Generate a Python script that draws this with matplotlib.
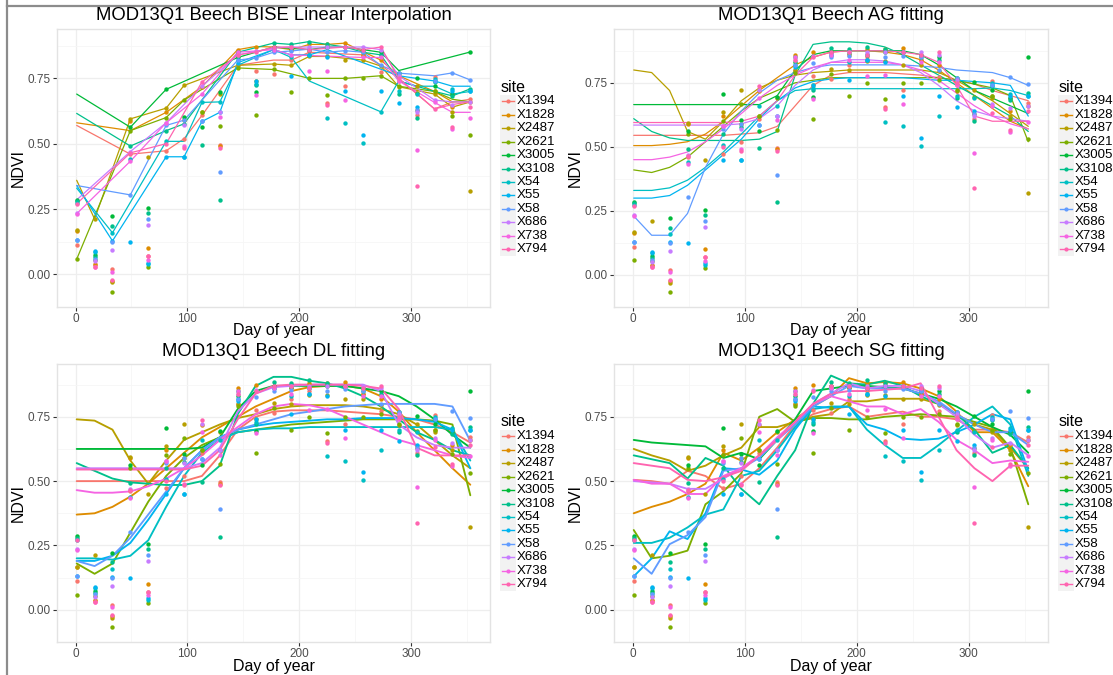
import matplotlib
matplotlib.use("Agg")
import matplotlib.pyplot as plt
from matplotlib.lines import Line2D
from matplotlib.patches import Rectangle
import numpy as np

plt.rcParams['font.family'] = ['Liberation Sans', 'DejaVu Sans']

# ---------------- data ----------------
days = [1, 17, 33, 49, 65, 81, 97, 113, 129, 145, 161, 177, 193, 209, 225, 241, 257, 273, 289, 305, 321, 337, 353]
sites = ["X1394", "X1828", "X2487", "X2621", "X3005", "X3108", "X54", "X55", "X58", "X686", "X738", "X794"]
site_colors = ["#F8766D", "#DE8C00", "#B79F00", "#7CAE00", "#00BA38", "#00C08B",
               "#00BFC4", "#00B4F0", "#619CFF", "#C77CFF", "#F564E3", "#FF64B0"]
x_ticks = [0, 100, 200, 300]
y_ticks = [0.0, 0.25, 0.50, 0.75]
y_tick_labels = ["0.00", "0.25", "0.50", "0.75"]
titles = ["MOD13Q1 Beech BISE Linear Interpolation", "MOD13Q1 Beech AG fitting",
          "MOD13Q1 Beech DL fitting", "MOD13Q1 Beech SG fitting"]

N = None
raw_ndvi = {
    "X1394": [.111, .035, .02, .46, .07, .473, .519, .608, .495, .80, .777, .765, .82, .85, .654, .721, .84, .774, .74, .61, .756, .69, .67],
    "X1828": [.165, .04, -.024, .588, .102, .62, .59, .718, .49, .86, .872, .87, .86, .88, .88, .885, .84, .82, .76, .63, .70, .64, .66],
    "X2487": [.168, .212, -.03, .595, .449, .636, .723, .62, .69, .80, .74, .805, .80, .834, .834, .82, .82, .797, .718, .72, .69, .622, .32],
    "X2621": [.058, .055, -.066, .55, .027, .60, .667, .62, .566, .79, .608, .784, .699, .75, .687, .75, .75, .76, .72, .693, .70, .607, .532],
    "X3005": [.285, .075, .222, .563, .254, .708, .604, .563, .696, .83, .696, .87, .865, .86, .87, .87, .86, .85, .77, .752, .72, .69, .851],
    "X3108": [.279, .065, .184, .491, .235, .55, .576, .496, .283, .85, .723, .885, .88, .891, .88, .87, .85, .84, .689, .60, .736, .683, .71],
    "X54":   [.273, .085, .159, .44, .039, .509, .45, .658, .66, .82, .73, .86, .83, .84, .597, .58, .504, .622, .70, .69, .748, .708, .70],
    "X55":   [.13, .09, .128, .124, .045, .45, .45, .585, .62, .81, .74, .86, .761, .84, .83, .70, .534, .70, .655, .639, .74, .70, .70],
    "X58":   [.13, .06, .125, .304, .212, .57, .59, .585, .39, .82, .828, .85, .855, .862, .85, .856, .85, .80, .77, .63, .74, .771, .744],
    "X686":  [.235, .05, .092, .47, .188, .58, .57, .72, .62, .84, .853, .866, .87, .87, .87, .87, .87, .86, .76, .62, .667, .65, .66],
    "X738":  [.232, .03, .01, .433, .056, .58, .49, .69, .603, .85, .687, .86, .84, .777, .78, .667, .83, .83, .74, .477, .658, .557, .598],
    "X794":  [.27, .03, -.02, .465, .071, .50, .483, .736, .483, .84, .85, .87, .87, .86, .648, .87, .86, .87, .75, .338, .633, .565, .64],
}

bise_fit = {
    "X1394": [.57, N, N, .46, N, .473, .519, .608, N, .80, N, .82, .82, .85, N, N, .84, .80, .75, N, .633, .66, .67],
    "X1828": [.58, N, N, .55, N, .62, N, .718, N, .86, .872, .87, .86, .88, .88, .885, N, .82, .76, N, .70, .66, .66],
    "X2487": [.36, .212, N, .595, N, .636, .723, N, N, .80, N, .805, .80, .834, .834, N, .82, .797, .718, N, .69, .64, .66],
    "X2621": [.058, N, N, .55, N, .60, .667, N, N, .79, N, .784, N, .75, N, .75, N, .76, .72, N, .70, .67, .66],
    "X3005": [.69, N, N, .563, N, .708, N, N, N, .83, N, .87, .865, .86, .87, .87, .86, .85, .78, N, N, N, .851],
    "X3108": [.616, N, N, .491, N, .55, .576, N, N, .85, N, .885, .88, .891, .88, .87, .85, .84, .74, N, .70, .683, .71],
    "X54":   [.33, N, .159, N, N, .509, .509, .658, .66, .80, N, .86, .83, .74, N, N, N, .622, .74, .72, .72, .69, .70],
    "X55":   [.34, N, .128, N, N, .45, .45, .585, .62, .81, N, .86, .84, .84, .86, N, N, N, .76, N, .74, .72, .72],
    "X58":   [.34, N, N, .304, N, .57, .59, N, N, .82, .828, .85, .855, .862, .85, .856, .85, .80, .77, N, .76, .771, .744],
    "X686":  [.285, N, N, .47, N, .58, N, .72, N, .84, .853, .866, .87, .87, .87, .87, .87, .86, .76, N, .667, .66, .66],
    "X738":  [.232, N, N, .433, N, .58, N, .69, N, .85, N, .86, .84, N, N, N, .83, .83, .74, N, .658, .62, .62],
    "X794":  [.27, N, N, .465, N, .50, N, .736, N, .84, .85, .87, .87, .86, N, .87, .86, .87, .75, N, .633, .65, .66],
}

ag_fit = {
    "X1394": [.545, .545, .545, .545, .545, .545, .55, .555, .58, .66, .74, .78, .79, .79, .79, .785, .78, .77, .76, .745, .72, .70, .68],
    "X1828": [.505, .505, .51, .52, .55, .60, .66, .72, .77, .82, .85, .87, .875, .875, .87, .86, .84, .80, .75, .70, .65, .60, .57],
    "X2487": [.80, .79, .72, .56, .53, .60, .68, .73, .76, .78, .79, .795, .80, .80, .80, .80, .80, .79, .76, .72, .68, .63, .58],
    "X2621": [.41, .40, .42, .46, .52, .58, .64, .69, .72, .75, .76, .77, .77, .77, .77, .77, .77, .77, .76, .745, .73, .70, .52],
    "X3005": [.665, .665, .665, .665, .665, .665, .665, .665, .70, .80, .86, .875, .875, .875, .875, .875, .86, .82, .77, .72, .69, .66, .63],
    "X3108": [.61, .56, .535, .525, .525, .525, .525, .53, .56, .78, .90, .91, .91, .905, .89, .86, .82, .78, .74, .70, .66, .62, .56],
    "X54":   [.33, .33, .34, .37, .42, .48, .55, .62, .68, .72, .727, .727, .727, .727, .727, .727, .727, .727, .727, .727, .73, .72, .70],
    "X55":   [.30, .30, .31, .35, .41, .47, .53, .61, .68, .73, .755, .765, .77, .77, .77, .77, .765, .76, .76, .755, .75, .74, .62],
    "X58":   [.23, .155, .155, .24, .42, .55, .64, .71, .76, .79, .81, .82, .82, .82, .82, .82, .815, .81, .80, .795, .79, .77, .74],
    "X686":  [.585, .585, .585, .585, .585, .585, .59, .61, .66, .74, .80, .83, .84, .84, .835, .82, .79, .74, .68, .64, .62, .61, .60],
    "X738":  [.45, .45, .46, .48, .52, .57, .63, .69, .74, .78, .81, .83, .83, .83, .83, .82, .80, .76, .71, .66, .62, .59, .57],
    "X794":  [.595, .595, .595, .595, .595, .595, .60, .62, .68, .78, .85, .87, .875, .875, .875, .87, .86, .83, .74, .62, .60, .60, .60],
}

dl_fit = {
    "X1394": [.50, .50, .50, .50, .50, .50, .50, .52, .60, .70, .75, .77, .775, .775, .775, .77, .765, .76, .75, .74, .72, .69, .65],
    "X1828": [.37, .375, .40, .44, .49, .55, .61, .67, .71, .75, .79, .82, .85, .865, .87, .87, .86, .83, .77, .69, .62, .55, .486],
    "X2487": [.74, .735, .70, .58, .49, .58, .66, .69, .72, .745, .76, .78, .79, .795, .795, .795, .79, .78, .76, .72, .66, .60, .55],
    "X2621": [.18, .14, .18, .30, .42, .52, .59, .64, .67, .69, .70, .71, .72, .725, .73, .735, .74, .74, .74, .74, .735, .72, .445],
    "X3005": [.625, .625, .625, .625, .625, .625, .625, .63, .67, .78, .85, .87, .87, .87, .87, .87, .86, .85, .83, .79, .74, .68, .63],
    "X3108": [.57, .54, .51, .495, .49, .485, .485, .50, .56, .76, .87, .905, .905, .89, .88, .86, .83, .79, .74, .69, .66, .62, .60],
    "X54":   [.20, .20, .195, .21, .27, .40, .52, .61, .66, .69, .70, .705, .705, .71, .71, .71, .71, .71, .71, .71, .71, .70, .58],
    "X55":   [.19, .19, .21, .26, .35, .45, .55, .62, .67, .70, .715, .725, .73, .735, .74, .74, .745, .745, .745, .74, .73, .70, .55],
    "X58":   [.19, .17, .21, .28, .37, .46, .55, .62, .67, .70, .72, .74, .76, .77, .78, .79, .795, .80, .80, .80, .80, .79, .656],
    "X686":  [.55, .55, .55, .55, .55, .55, .55, .57, .63, .77, .84, .865, .87, .875, .875, .875, .875, .85, .72, .67, .64, .63, .63],
    "X738":  [.465, .455, .455, .46, .48, .51, .55, .60, .66, .71, .76, .79, .80, .795, .78, .75, .72, .69, .66, .64, .62, .60, .59],
    "X794":  [.545, .545, .545, .545, .545, .545, .545, .56, .62, .74, .84, .87, .875, .875, .875, .875, .87, .86, .78, .63, .60, .60, .60],
}

sg_fit = {
    "X1394": [.505, .50, .49, .54, .52, .47, .49, .55, .63, .72, .76, .78, .79, .75, .76, .77, .75, .75, .74, .70, .70, .69, .65],
    "X1828": [.375, .40, .42, .45, .49, .61, .58, .63, .69, .74, .79, .83, .90, .88, .885, .88, .86, .83, .77, .69, .69, .62, .48],
    "X2487": [.625, .60, .58, .54, .56, .60, .63, .71, .71, .73, .75, .76, .81, .81, .82, .82, .82, .80, .76, .72, .70, .63, .55],
    "X2621": [.31, .20, .21, .23, .41, .46, .53, .75, .78, .73, .745, .745, .74, .74, .75, .755, .76, .755, .75, .73, .71, .63, .41],
    "X3005": [.66, .65, .645, .64, .635, .59, .61, .585, .66, .74, .85, .86, .87, .87, .865, .86, .84, .82, .79, .75, .71, .68, .61],
    "X3108": [.60, .585, .57, .51, .59, .56, .47, .41, .52, .62, .80, .91, .88, .875, .89, .87, .83, .80, .76, .70, .61, .64, .55],
    "X54":   [.26, .26, .28, .32, .37, .39, .52, .54, .62, .71, .78, .79, .79, .70, .64, .59, .59, .64, .695, .75, .79, .72, .52],
    "X55":   [.13, .20, .305, .275, .375, .55, .545, .525, .58, .70, .79, .785, .79, .72, .70, .665, .66, .665, .69, .72, .76, .74, .54],
    "X58":   [.20, .14, .255, .29, .36, .54, .55, .59, .66, .72, .79, .83, .87, .86, .86, .86, .84, .81, .76, .72, .69, .69, .64],
    "X686":  [.50, .495, .49, .47, .47, .51, .55, .60, .66, .73, .80, .84, .88, .86, .87, .87, .85, .80, .75, .68, .63, .65, .60],
    "X738":  [.505, .49, .49, .45, .45, .52, .55, .60, .67, .73, .80, .83, .81, .79, .79, .76, .78, .73, .66, .62, .57, .58, .575],
    "X794":  [.57, .56, .55, .505, .50, .515, .54, .60, .66, .73, .80, .84, .85, .85, .855, .86, .88, .75, .62, .55, .50, .56, .56],
}

# ---------------- layout ----------------
W, H = 1113, 675
fig = plt.figure(figsize=(W / 100, H / 100), dpi=100)
fig.patch.set_facecolor("white")


def fx(x):
    return x / W


def fy(y):
    return 1 - y / H


panels = [
    (titles[0], bise_fit, 57, 490, 29, 307, (-0.114, 0.939), 0.9),
    (titles[1], ag_fit, 614, 1048, 29, 307, (-0.117, 0.960), 0.9),
    (titles[2], dl_fit, 57, 490, 364, 642, (-0.115, 0.955), 1.35),
    (titles[3], sg_fit, 614, 1048, 364, 642, (-0.115, 0.955), 1.35),
]

d = np.array(days, dtype=float)

for title, fits, x0, x1, yt, yb, ylim, lw in panels:
    ax = fig.add_axes([fx(x0), fy(yb), (x1 - x0) / W, (yb - yt) / H])
    ax.set_facecolor("white")
    ax.set_xlim(-16.6, 370.6)
    ax.set_ylim(*ylim)
    ax.set_xticks(x_ticks)
    ax.set_xticks([50, 150, 250, 350], minor=True)
    ax.set_yticks(y_ticks)
    ax.set_yticklabels(y_tick_labels)
    ax.set_yticks([-0.125, 0.125, 0.375, 0.625, 0.875], minor=True)
    ax.grid(which="major", color="#EEEEEE", lw=0.9)
    ax.grid(which="minor", color="#F6F6F6", lw=0.6)
    ax.set_axisbelow(True)
    for s in ax.spines.values():
        s.set_color("#E3E3E3")
        s.set_linewidth(1.0)
    ax.tick_params(which="major", length=3, width=0.8, color="#333333",
                   labelcolor="#4D4D4D", labelsize=8.5, pad=1.5)
    ax.tick_params(which="minor", length=0)

    for site, col in zip(sites, site_colors):
        vals = np.array([np.nan if v is None else v for v in fits[site]], dtype=float)
        m = ~np.isnan(vals)
        ax.plot(d[m], vals[m], color=col, lw=lw, zorder=2, solid_capstyle="round")
    for site, col in zip(sites, site_colors):
        ax.scatter(d, raw_ndvi[site], s=10, color=col, lw=0, zorder=3)

    # title and axis labels
    fig.text(fx((x0 + x1) / 2), fy(yt - 13), title, ha="center", va="center", fontsize=13.3, color="black")
    fig.text(fx((x0 + x1) / 2), fy(yb + 24), "Day of year", ha="center", va="center", fontsize=11.5, color="black")
    fig.text(fx(x0 - 39), fy((yt + yb) / 2), "NDVI", ha="center", va="center", rotation=90,
             fontsize=11.5, color="black")

    # legend
    kx0 = x1 + 11
    kx1 = kx0 + 14
    fig.text(fx(kx0), fy(yt + 58), "site", ha="left", va="center", fontsize=11.5, color="black")
    for i, (site, col) in enumerate(zip(sites, site_colors)):
        yc = yt + 72.3 + 13.45 * i
        fig.patches.append(Rectangle((fx(kx0 - 1), fy(yc + 6.7)), 16 / W, 13.45 / H,
                                     transform=fig.transFigure, facecolor="#F2F2F2",
                                     edgecolor="none", zorder=1))
        fig.add_artist(Line2D([fx(kx0 + 1), fx(kx1 - 1)], [fy(yc), fy(yc)],
                              transform=fig.transFigure, color=col, lw=1.0, zorder=2))
        fig.add_artist(Line2D([fx((kx0 + kx1) / 2)], [fy(yc)], transform=fig.transFigure,
                              marker="o", markersize=3, color=col, markeredgewidth=0, zorder=3))
        fig.text(fx(kx1 + 2), fy(yc), site, ha="left", va="center", fontsize=9.5, color="black")

# outer frame lines of the screenshot
fig.add_artist(Line2D([fx(7), fx(7)], [0, 1], transform=fig.transFigure, color="#8C8C8C", lw=1.6))
fig.add_artist(Line2D([fx(7), 1], [fy(5.5), fy(5.5)], transform=fig.transFigure, color="#8C8C8C", lw=1.6))

fig.savefig("out.png", dpi=100, facecolor="white")
